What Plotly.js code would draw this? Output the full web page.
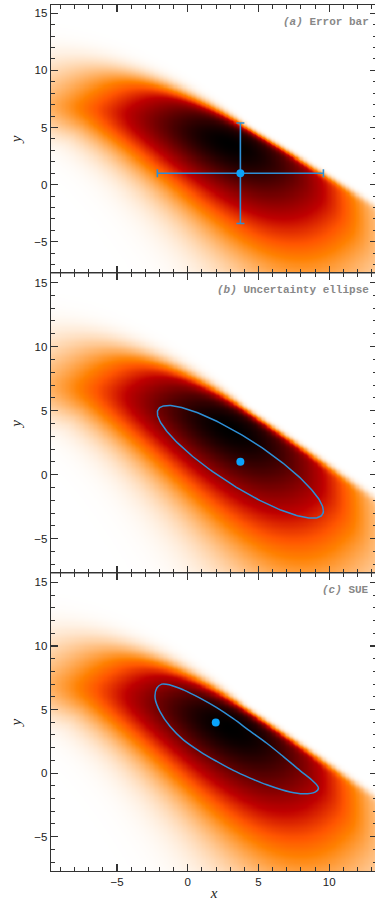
<!DOCTYPE html>
<html>
<head>
<meta charset="utf-8">
<script src="https://cdn.plot.ly/plotly-3.0.1.min.js"></script>
<style>
  html, body { margin: 0; padding: 0; background: #fff; overflow: hidden; }
  #chart { width: 377px; height: 901px; }
</style>
</head>
<body>
<div id="chart"></div>
<script>
// ---------------- data ----------------
const xRange = [-9.67, 13.38];
const yRange = [-7.7, 15.72];
const xTickVals = [-5, 0, 5, 10];
const yTickVals = [-5, 0, 5, 10, 15];

// underlying skewed, curved probability density (parameters)
const bandCentre = [2.5, 3.0];       // reference point of the band
const bandSlope = [-0.74];           // direction of the band
const ridgePeak = [2.5, 0.9];        // apex of the curved ridge (along, across)
const ridgeBend = [0.02];            // curvature of the ridge
const alongPeak = [0.0];             // position of maximum along the band
const alongSigma = [6.4, 7.0];       // spread along the band (upper-left, lower-right)
const acrossSigmaUp = [2.6, 0.1];    // spread above the ridge (base, growth to the left)
const acrossSigmaDown = [4.3, 0.15]; // spread below the ridge (value at 6 along, change along band)
const edgeOffset = [2.5, 0.009];     // sharp upper edge (across position, bending to the left)
const edgeSharpness = [4.0, 0.25];   // edge sharpness (centre, softening to the left)

// (a) error bar: mean and 1-sigma half widths
const meanPoint = [3.72, 1.0];
const errHalfX = [5.87];
const errHalfY = [4.4];

// (b) uncertainty ellipse: centre, sigma_x, sigma_y, correlation
const ellipseCentre = [3.72, 1.0];
const ellipseSigma = [5.87, 4.4];
const ellipseRho = [-0.87];

// (c) SUE contour points and its centre point
const sueX = [-2.31, -2.19, -1.84, -1.25, -0.31, 0.87, 2.05, 3.22, 4.41, 5.59, 6.76, 7.94, 8.88, 9.24, 9.0, 8.18, 7.23, 5.59, 4.41, 3.22, 2.05, 0.87, -0.31, -1.25, -1.96, -2.31];
const sueY = [5.90, 6.68, 7.0, 6.94, 6.55, 5.90, 5.15, 4.28, 3.30, 2.35, 1.30, 0.2, -0.66, -1.18, -1.49, -1.63, -1.49, -0.92, -0.39, 0.21, 0.92, 1.70, 2.62, 3.66, 4.84, 5.90];
const sueCentre = [1.98, 3.98];

const panelLabels = ['<i>(a)</i> Error bar', '<i>(b)</i> Uncertainty ellipse', '<i>(c)</i> SUE'];

// ---------------- density field ----------------
function erf(t) {
  const s = t < 0 ? -1 : 1; t = Math.abs(t);
  const p = 0.3275911, a1 = 0.254829592, a2 = -0.284496736, a3 = 1.421413741, a4 = -1.453152027, a5 = 1.061405429;
  const k = 1 / (1 + p * t);
  return s * (1 - (((((a5 * k + a4) * k) + a3) * k + a2) * k + a1) * k * Math.exp(-t * t));
}
function Phi(t) { return 0.5 * (1 + erf(t / Math.SQRT2)); }

const nrm = Math.sqrt(1 + bandSlope[0] * bandSlope[0]);
const d1 = [1 / nrm, bandSlope[0] / nrm];
const d2 = [-bandSlope[0] / nrm, 1 / nrm];
function dens(x, y) {
  const dx = x - bandCentre[0], dy = y - bandCentre[1];
  const u = dx * d1[0] + dy * d1[1];
  const v = dx * d2[0] + dy * d2[1];
  const vr = ridgePeak[1] - ridgeBend[0] * (u - ridgePeak[0]) * (u - ridgePeak[0]);
  const dv = v - vr;
  const left = Math.max(0, -u);
  const sUp = acrossSigmaUp[0] + acrossSigmaUp[1] * left;
  const sDn = Math.max(2.0, acrossSigmaDown[0] + acrossSigmaDown[1] * (u - 6));
  const g = dv >= 0 ? Math.exp(-dv * dv / (2 * sUp * sUp)) : Math.exp(-dv * dv / (2 * sDn * sDn));
  const du = u - alongPeak[0];
  const su = du < 0 ? alongSigma[0] : alongSigma[1];
  const a = Math.exp(-du * du / (2 * su * su));
  const vc = edgeOffset[0] - edgeOffset[1] * left * left;
  const kap = edgeSharpness[0] / (1 + edgeSharpness[1] * left);
  const cut = Phi(kap * (vc - v));
  return a * g * cut;
}
const step = 0.09;
const gx = [], gy = [];
for (let t = xRange[0]; t <= xRange[1] + step; t += step) gx.push(t);
for (let t = yRange[0]; t <= yRange[1] + step; t += step) gy.push(t);
let zmax = 0;
const z = gy.map(yy => gx.map(xx => { const d = dens(xx, yy); if (d > zmax) zmax = d; return d; }));
const zn = z.map(r => r.map(t => t / zmax));

// ---------------- ellipse curve from its parameters ----------------
const ex = [], ey = [];
const rr = ellipseRho[0];
for (let i = 0; i <= 240; i++) {
  const t = 2 * Math.PI * i / 240;
  ex.push(ellipseCentre[0] + ellipseSigma[0] * Math.cos(t));
  ey.push(ellipseCentre[1] + ellipseSigma[1] * (rr * Math.cos(t) + Math.sqrt(1 - rr * rr) * Math.sin(t)));
}

// ---------------- styling ----------------
const heatScale = [
  [0, '#ffffff'], [0.125, 'rgb(255,191,128)'], [0.25, 'rgb(255,128,0)'],
  [0.3333, 'rgb(255,85,0)'], [0.5, 'rgb(191,0,0)'], [1, '#000000']
];
const lineBlue = '#2e8fd6';
const dotBlue = '#0aa3fb';

const traces = [];
for (let p = 1; p <= 3; p++) {
  const xa = p === 1 ? 'x' : 'x' + p, ya = p === 1 ? 'y' : 'y' + p;
  traces.push({
    type: 'heatmap', x: gx, y: gy, z: zn, xaxis: xa, yaxis: ya,
    colorscale: heatScale, zmin: 0, zmax: 1, showscale: false, zsmooth: 'best', hoverinfo: 'skip'
  });
}
traces.push({
  type: 'scatter', mode: 'markers', x: [meanPoint[0]], y: [meanPoint[1]], xaxis: 'x', yaxis: 'y',
  marker: { size: 8, color: dotBlue },
  error_x: { type: 'data', array: errHalfX, color: lineBlue, thickness: 1.6, width: 4 },
  error_y: { type: 'data', array: errHalfY, color: lineBlue, thickness: 1.6, width: 4 }
});
traces.push({ type: 'scatter', mode: 'lines', x: ex, y: ey, xaxis: 'x2', yaxis: 'y2', line: { color: lineBlue, width: 1.5 } });
traces.push({ type: 'scatter', mode: 'markers', x: [ellipseCentre[0]], y: [ellipseCentre[1]], xaxis: 'x2', yaxis: 'y2', marker: { size: 8, color: dotBlue } });
traces.push({ type: 'scatter', mode: 'lines', x: sueX, y: sueY, xaxis: 'x3', yaxis: 'y3', line: { color: lineBlue, width: 1.5, shape: 'spline', smoothing: 1 } });
traces.push({ type: 'scatter', mode: 'markers', x: [sueCentre[0]], y: [sueCentre[1]], xaxis: 'x3', yaxis: 'y3', marker: { size: 8, color: dotBlue } });

const H = 901;
const domains = [[1 - 272.7 / H, 1 - 5 / H], [1 - 573.3 / H, 1 - 273.3 / H], [1 - 871 / H, 1 - 573.3 / H]];
const axisCommon = {
  showline: true, linecolor: '#333', linewidth: 1.3, mirror: 'allticks',
  ticks: 'inside', ticklen: 7, tickwidth: 1.2, tickcolor: '#333',
  showgrid: false, zeroline: false, automargin: false,
  tickfont: { family: 'Liberation Sans, Arial, sans-serif', size: 11.5, color: '#222' },
  minor: { dtick: 1, ticks: 'inside', ticklen: 4, tickwidth: 1, tickcolor: '#333', showgrid: false }
};
const titleFont = { family: 'Liberation Serif, serif', size: 15, color: '#222', style: 'italic' };
const layout = {
  width: 377, height: 901, margin: { l: 51, r: 0, t: 0, b: 0 },
  paper_bgcolor: '#fff', plot_bgcolor: '#fff', showlegend: false,
  annotations: []
};
for (let p = 1; p <= 3; p++) {
  const xk = p === 1 ? 'xaxis' : 'xaxis' + p, yk = p === 1 ? 'yaxis' : 'yaxis' + p;
  const ya = p === 1 ? 'y' : 'y' + p, xa = p === 1 ? 'x' : 'x' + p;
  layout[xk] = Object.assign({}, axisCommon, {
    range: xRange, anchor: ya, tickvals: xTickVals, showticklabels: p === 3, domain: [0, 1]
  });
  if (p === 3) layout[xk].title = { text: 'x', standoff: 9, font: titleFont };
  layout[yk] = Object.assign({}, axisCommon, {
    range: yRange, anchor: xa, tickvals: yTickVals, domain: domains[p - 1],
    title: { text: 'y', standoff: 9, font: titleFont }
  });
  const topPx = [5, 273.3, 573.3][p - 1];
  layout.annotations.push({
    xref: 'paper', yref: 'paper', x: (371 - 51) / 326, y: 1 - (topPx + 16.5) / H,
    xanchor: 'right', yanchor: 'middle', showarrow: false, text: panelLabels[p - 1],
    font: { family: 'Liberation Mono, DejaVu Sans Mono, monospace', size: 11, color: '#888', weight: 'bold' }
  });
}
Plotly.newPlot('chart', traces, layout, { staticPlot: true, displayModeBar: false });
</script>
</body>
</html>
